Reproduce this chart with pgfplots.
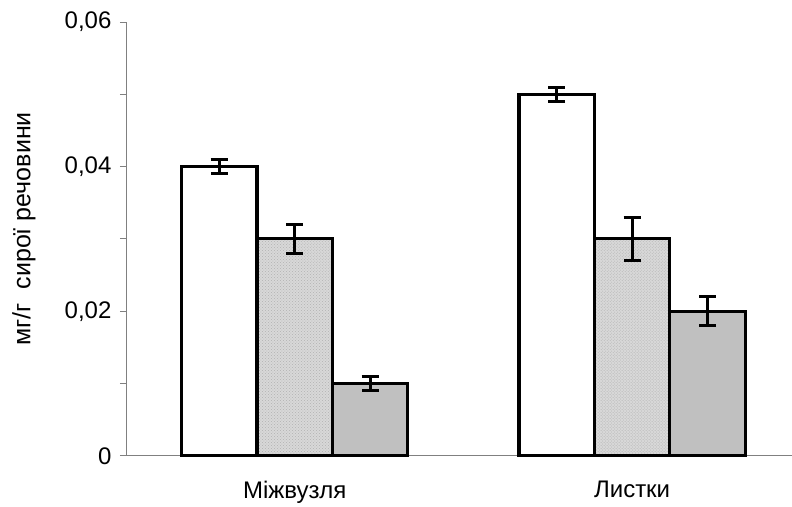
\documentclass[border=0pt]{standalone}
\usepackage{pgfplots}
\pgfplotsset{compat=1.18}
\usepackage{fontspec}
\setmainfont{Liberation Sans}
\usetikzlibrary{patterns}
\definecolor{axgray}{HTML}{808080}
\definecolor{midgray}{HTML}{C0C0C0}
\definecolor{dotgray}{HTML}{D8D8D8}
\begin{document}
\begin{tikzpicture}
\begin{axis}[
  scale only axis,
  width=666pt, height=434pt,
  xmin=-0.5, xmax=1.4726,
  ymin=0, ymax=0.06,
  scaled y ticks=false,
  axis x line*=bottom, axis y line*=left,
  axis line style={axgray, line width=0.8pt},
  ybar, bar width=75.5pt,
  xtick={0,1}, xticklabels={Міжвузля, Листки},
  x tick style={draw=none},
  xticklabel style={font=\fontsize{24}{28}\selectfont, yshift=-16pt},
  extra x ticks={0.5}, extra x tick labels={},
  extra x tick style={tick align=inside, major tick length=8pt, tick style={axgray, line width=0.8pt, draw=axgray}},
  ytick={0,0.02,0.04,0.06},
  yticklabels={0,{0,02},{0,04},{0,06}},
  minor ytick={0.01,0.03,0.05},
  y tick style={axgray, line width=0.8pt},
  tick align=outside,
  major tick length=6pt, minor tick length=6pt,
  yticklabel style={font=\fontsize{24}{28}\selectfont, xshift=-5pt},
  ylabel={мг/г\ \ сирої речовини},
  ylabel style={font=\fontsize{25}{30}\selectfont, at={(rel axis cs:0,0.523)}, anchor=center, yshift=102pt},
  clip=false,
  error bars/error bar style={black, line width=3pt},
  error bars/error mark options={rotate=90, mark size=8.5pt, line width=3pt, black},
]
\addplot[bar shift=-75.5pt, draw=black, line width=3.2pt, fill=white,
  error bars/.cd, y dir=both, y explicit]
  coordinates {(0,0.040) +- (0,0.001) (1,0.050) +- (0,0.001)};
\addplot[bar shift=0pt, draw=black, line width=3.2pt, fill=dotgray,
  postaction={pattern=crosshatch dots, pattern color=gray!60},
  error bars/.cd, y dir=both, y explicit]
  coordinates {(0,0.030) +- (0,0.002) (1,0.030) +- (0,0.003)};
\addplot[bar shift=75.5pt, draw=black, line width=3.2pt, fill=midgray,
  error bars/.cd, y dir=both, y explicit]
  coordinates {(0,0.010) +- (0,0.001) (1,0.020) +- (0,0.002)};
\end{axis}
\path[use as bounding box] ([xshift=-126pt,yshift=-48pt]current axis.south west) rectangle ([yshift=22pt]current axis.north east);
\end{tikzpicture}
\end{document}
